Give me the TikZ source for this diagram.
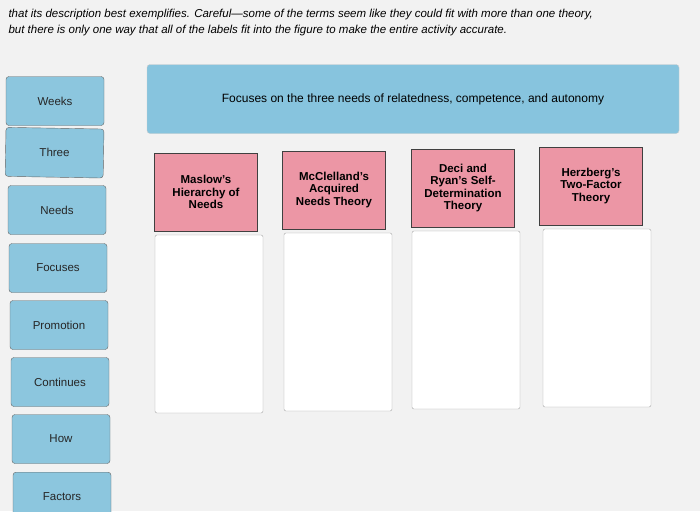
\documentclass[tikz,border=0pt]{standalone}
\usepackage{fontspec}
\setmainfont{Liberation Sans}
\definecolor{btn}{RGB}{140,198,222}
\definecolor{ban}{RGB}{135,196,222}
\definecolor{pk}{RGB}{236,150,165}
\begin{document}
\begin{tikzpicture}[x=1pt,y=-1pt,
  side/.style={draw=black!60,fill=btn,rounded corners=3pt,minimum width=98pt,minimum height=49pt,font=\fontsize{11.5}{12}\selectfont,text=black!85},
  theory/.style={draw=black!75,line width=1pt,fill=pk,minimum width=103pt,minimum height=78pt,align=center,font=\bfseries\fontsize{11.5}{12.5}\selectfont},
  slot/.style={draw=black!35,fill=white,rounded corners=2pt,minimum width=108pt,minimum height=178pt}]
\useasboundingbox (0,0) rectangle (700,511);
\fill[black!5] (0,0) rectangle (700,511);
\node[anchor=west,font=\itshape\fontsize{11.5}{13}\selectfont] (t1) at (5,15) {that its description best exemplifies. Careful---some of the terms seem like they could fit with more than one theory,};
\node[anchor=west,font=\itshape\fontsize{11.5}{13}\selectfont] (t2) at (5,31) {but there is only one way that all of the labels fit into the figure to make the entire activity accurate.};
\node[side] (w) at (55,101) {Weeks};
\node[side,anchor=north,rotate=-1] (th) at (55,128) {Three};
\node[side] (n) at (57,210) {Needs};
\node[side] (f) at (58,268) {Focuses};
\node[side] (p) at (59,325) {Promotion};
\node[side] (c) at (60,382) {Continues};
\node[side] (h) at (61,439) {How};
\node[side,anchor=north] (fa) at (62,472) {Factors};
\node[draw=black!20,fill=ban,rounded corners=3pt,minimum width=532pt,minimum height=69pt,font=\fontsize{12}{13}\selectfont] (b) at (413,99) {Focuses on the three needs of relatedness, competence, and autonomy};
\node[theory] (m1) at (206,192) {Maslow's\\Hierarchy of\\Needs};
\node[theory] (m2) at (334,190) {McClelland's\\Acquired\\Needs Theory};
\node[theory] (m3) at (463,188) {Deci and\\Ryan's Self-\\Determination\\Theory};
\node[theory] (m4) at (591,186) {Herzberg's\\Two-Factor\\Theory};
\node[slot] (s1) at (209,324) {};
\node[slot] (s2) at (338,322) {};
\node[slot] (s3) at (466,320) {};
\node[slot] (s4) at (597,318) {};
\end{tikzpicture}
\end{document}
